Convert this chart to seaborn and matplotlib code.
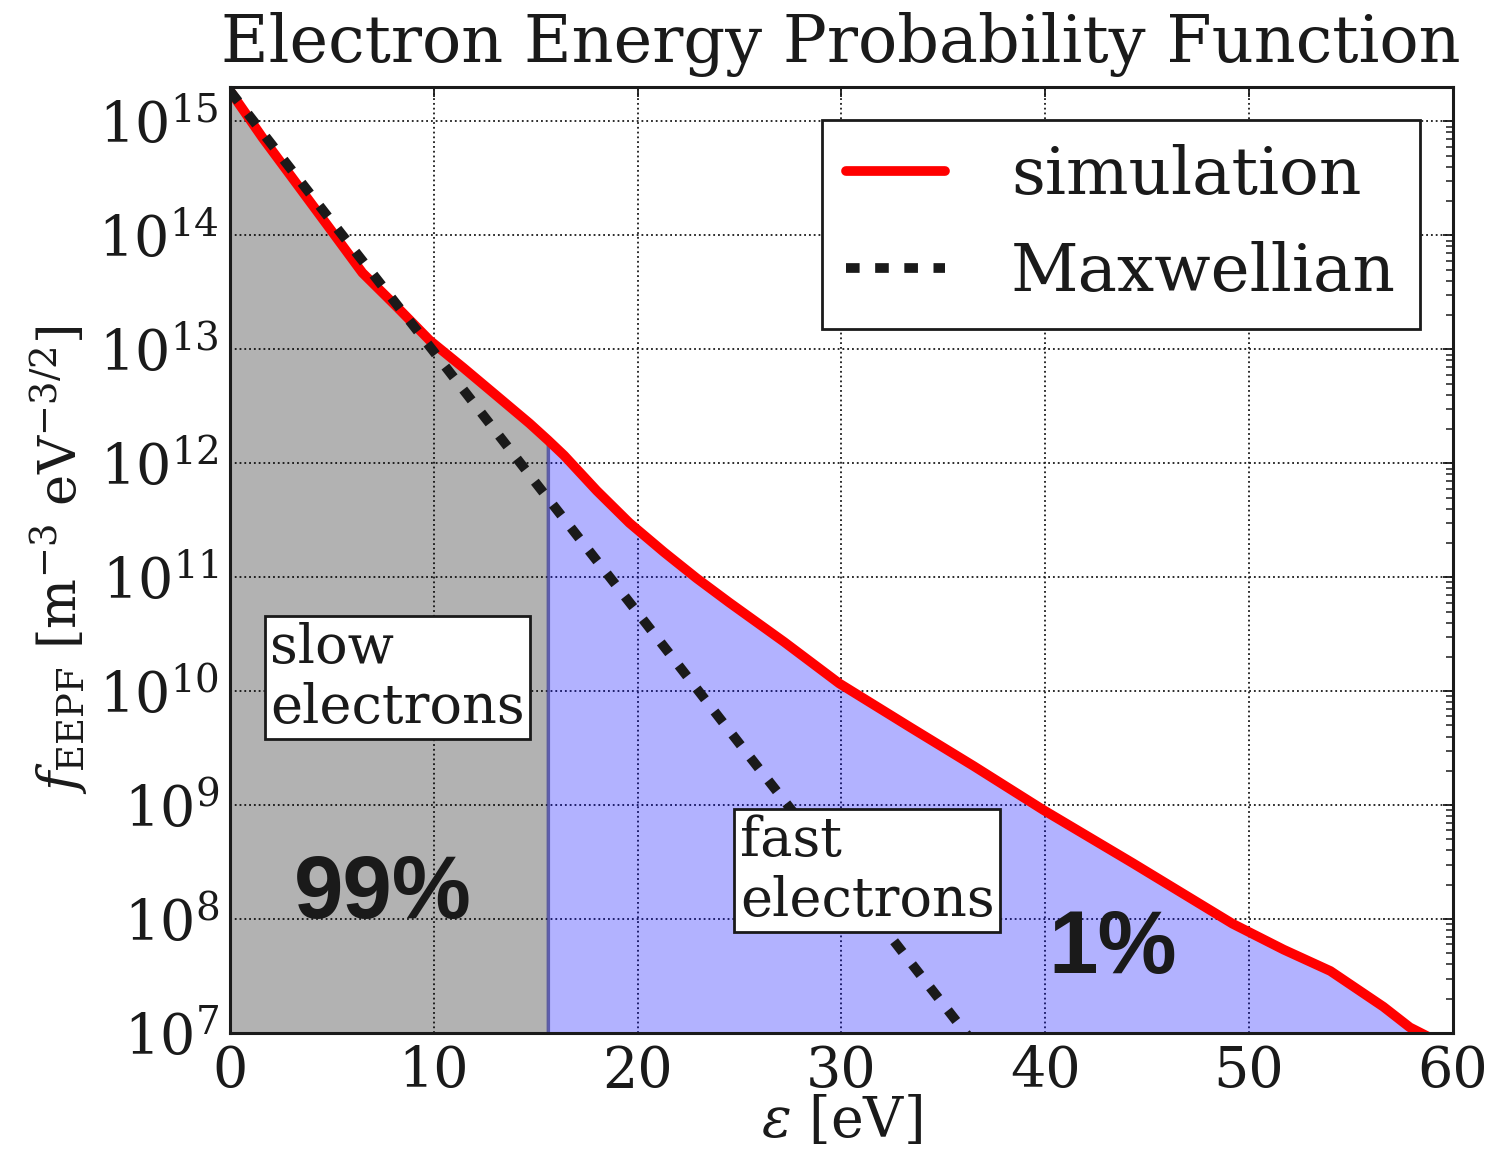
import numpy as np
import matplotlib
matplotlib.use("Agg")
import matplotlib.pyplot as plt
from matplotlib.ticker import LogLocator, NullFormatter
import seaborn as sns

# simulated EEPF
energy_sim = [0.0, 1.6, 3.3, 4.9, 6.5, 8.2, 9.8, 11.45, 13.1, 14.7, 15.6,
              16.4, 18.0, 19.6, 21.3, 22.9, 24.5, 27.2, 29.9, 33.4, 36.5,
              39.9, 44.3, 49.2, 51.7, 54.0, 56.6, 57.9, 59.0]
eepf_sim = [1.86e15, 7.2e14, 2.8e14, 1.15e14, 4.7e13, 2.35e13, 1.2e13,
            6.9e12, 3.9e12, 2.24e12, 1.6e12, 1.17e12, 5.75e11, 3.0e11,
            1.66e11, 9.8e10, 6.0e10, 2.7e10, 1.17e10, 4.8e9, 2.2e9, 9.1e8,
            3.1e8, 9.1e7, 5.4e7, 3.5e7, 1.7e7, 1.12e7, 8.9e6]

# Maxwellian reference
energy_max = [0.0, 5.0, 10.0, 15.0, 20.0, 25.0, 30.0, 36.2]
eepf_max = [1.86e15, 1.32e14, 9.55e12, 6.76e11, 4.9e10, 3.47e9, 2.51e8, 9.5e6]

split_energy = 15.6
x_ticks = [0, 10, 20, 30, 40, 50, 60]

sns.set_theme(style="white")
plt.rcParams.update({
    "text.color": "k",
    "axes.labelcolor": "k",
    "xtick.color": "k",
    "ytick.color": "k",
    "mathtext.fontset": "dejavuserif",
})
plt.rcParams["font.family"] = ["DejaVu Serif"]

fig = plt.figure(figsize=(14.93, 11.62), dpi=100)
ax = fig.add_axes([0.154, 0.111, 0.819, 0.814])

x = np.array(energy_sim)
y = np.array(eepf_sim)
ax.fill_between(x, y, 1e6, where=x <= split_energy,
                facecolor=(0, 0, 0, 0.3), linewidth=0)
ax.fill_between(x, y, 1e6, where=x >= split_energy,
                facecolor=(0, 0, 1, 0.3), edgecolor=(0.25, 0.25, 0.6, 0.75),
                linewidth=2.5)

sns.lineplot(x=energy_sim, y=eepf_sim, ax=ax, color="#ff0000", lw=7,
             label="simulation")
sns.lineplot(x=energy_max, y=eepf_max, ax=ax, color="k", lw=7,
             linestyle=(0, (1.4, 1.6)), label="Maxwellian")

ax.set_yscale("log")
ax.set_xlim(0, 60)
ax.set_ylim(1e7, 2e15)
ax.set_xticks(x_ticks)
ax.yaxis.set_major_locator(LogLocator(base=10, numticks=20))
ax.yaxis.set_minor_locator(LogLocator(base=10, subs=np.arange(2, 10),
                                      numticks=20))
ax.yaxis.set_minor_formatter(NullFormatter())

ax.grid(True, which="major", color="k", linestyle=":", linewidth=1.3)
ax.tick_params(which="both", direction="in", top=True, right=True,
               labelsize=40, pad=8)
ax.tick_params(which="major", length=7, width=1.3)
ax.tick_params(which="minor", length=5, width=1.1)
for sp in ax.spines.values():
    sp.set_color("k")
    sp.set_linewidth(2.2)

ax.set_title("Electron Energy Probability Function", fontsize=47, pad=18)
ax.set_xlabel(r"$\varepsilon$ [eV]", fontsize=40, labelpad=-3)
ax.set_ylabel(r"$f_{\rm EEPF}$ [m$^{-3}$ eV$^{-3/2}$]", fontsize=38,
              labelpad=6)

leg = ax.legend(loc="upper right", bbox_to_anchor=(0.973, 0.965),
                borderaxespad=0, fontsize=47.5, handlelength=1.5,
                handletextpad=1.0, labelspacing=0.5, borderpad=0.36,
                fancybox=False, framealpha=1, edgecolor="k")
leg.get_frame().set_linewidth(2)

box = dict(boxstyle="square,pad=0.1", facecolor="w", edgecolor="k", lw=2)
ax.text(0.033, 0.435, "slow\nelectrons", transform=ax.transAxes,
        fontsize=39, ha="left", va="top", linespacing=1.2, bbox=box)
ax.text(0.417, 0.231, "fast\nelectrons", transform=ax.transAxes,
        fontsize=39, ha="left", va="top", linespacing=1.2, bbox=box)
ax.text(0.125, 0.146, "99%", transform=ax.transAxes, fontsize=64,
        family="Liberation Sans", weight="bold", ha="center", va="center")
ax.text(0.722, 0.088, "1%", transform=ax.transAxes, fontsize=64,
        family="Liberation Sans", weight="bold", ha="center", va="center")

fig.savefig("out.png", dpi=100)
